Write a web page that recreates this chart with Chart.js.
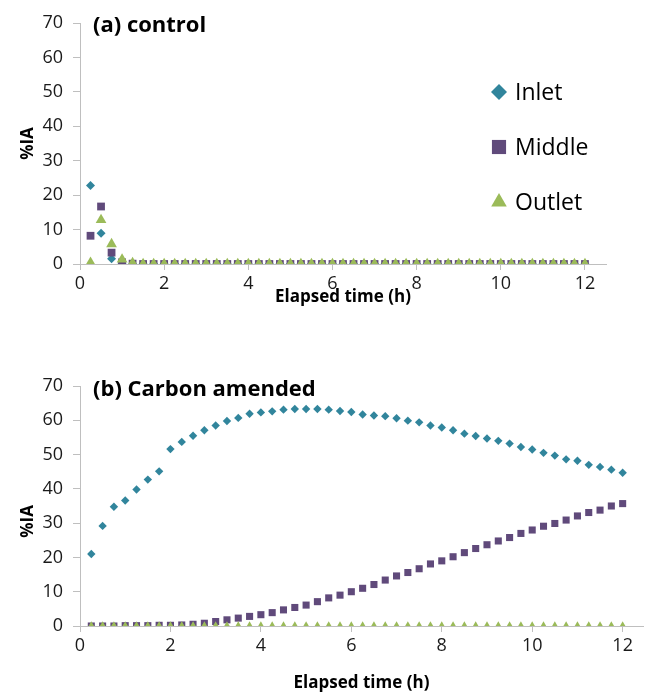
<!DOCTYPE html>
<html>
<head>
<meta charset="utf-8">
<script src="https://cdn.jsdelivr.net/npm/chart.js@4.4.1/dist/chart.umd.min.js"></script>
<style>
  html, body { margin: 0; padding: 0; background: #fff; overflow: hidden; }
  .panel { position: relative; width: 648px; }
  #wrapA { height: 330px; }
  #wrapB { height: 363px; }
</style>
</head>
<body>
<div class="panel" id="wrapA"><canvas id="chartA"></canvas></div>
<div class="panel" id="wrapB"><canvas id="chartB"></canvas></div>
<script>
// sampling times (h)
const hours = [0.25, 0.5, 0.75, 1, 1.25, 1.5, 1.75, 2, 2.25, 2.5, 2.75, 3,
  3.25, 3.5, 3.75, 4, 4.25, 4.5, 4.75, 5, 5.25, 5.5, 5.75, 6,
  6.25, 6.5, 6.75, 7, 7.25, 7.5, 7.75, 8, 8.25, 8.5, 8.75, 9,
  9.25, 9.5, 9.75, 10, 10.25, 10.5, 10.75, 11, 11.25, 11.5, 11.75, 12];

const seriesNames = ['Inlet', 'Middle', 'Outlet'];

// (a) control
const controlInlet = [22.8, 8.9, 1.5, 0.1, 0, 0, 0, 0, 0, 0, 0, 0,
  0, 0, 0, 0, 0, 0, 0, 0, 0, 0, 0, 0,
  0, 0, 0, 0, 0, 0, 0, 0, 0, 0, 0, 0,
  0, 0, 0, 0, 0, 0, 0, 0, 0, 0, 0, 0];
const controlMiddle = [8.2, 16.7, 3.3, 0.5, 0.1, 0, 0, 0, 0, 0, 0, 0,
  0, 0, 0, 0, 0, 0, 0, 0, 0, 0, 0, 0,
  0, 0, 0, 0, 0, 0, 0, 0, 0, 0, 0, 0,
  0, 0, 0, 0, 0, 0, 0, 0, 0, 0, 0, 0];
const controlOutlet = [0.4, 12.8, 5.8, 1.3, 0.3, 0, 0, 0, 0, 0, 0, 0,
  0, 0, 0, 0, 0, 0, 0, 0, 0, 0, 0, 0,
  0, 0, 0, 0, 0, 0, 0, 0, 0, 0, 0, 0,
  0, 0, 0, 0, 0, 0, 0, 0, 0, 0, 0, 0];

// (b) carbon amended
const carbonInlet = [21.0, 29.2, 34.8, 36.6, 39.8, 42.7, 45.1, 51.6, 53.7, 55.5, 57.1, 58.5,
  59.8, 60.7, 61.9, 62.3, 62.6, 63.1, 63.3, 63.3, 63.3, 63.1, 62.7, 62.4,
  61.7, 61.4, 61.2, 60.6, 59.9, 59.4, 58.5, 57.9, 57.1, 56.1, 55.4, 54.7,
  54.0, 53.2, 52.2, 51.5, 50.5, 49.7, 48.6, 48.2, 47.0, 46.4, 45.6, 44.7];
const carbonMiddle = [0, 0, 0, 0.1, 0.1, 0.1, 0.2, 0.2, 0.3, 0.5, 0.8, 1.3,
  1.8, 2.3, 2.8, 3.3, 3.9, 4.7, 5.4, 6.1, 7.1, 8.2, 9.0, 10.0,
  11.0, 12.1, 13.4, 14.6, 15.6, 16.7, 18.1, 19.0, 20.2, 21.4, 22.6, 23.7,
  24.8, 25.8, 27.0, 28.0, 29.1, 29.9, 30.9, 32.1, 33.1, 33.8, 35.0, 35.7];
const carbonOutlet = [0, 0, 0, 0, 0, 0, 0, 0, 0, 0, 0, 0,
  0, 0, 0, 0, 0, 0, 0, 0, 0, 0, 0, 0,
  0, 0, 0, 0, 0, 0, 0, 0, 0, 0, 0, 0,
  0, 0, 0, 0, 0, 0, 0, 0, 0, 0, 0, 0];

const xTicks = [0, 2, 4, 6, 8, 10, 12];
const yTicks = [0, 10, 20, 30, 40, 50, 60, 70];

const FONT = "'Open Sans', sans-serif";
const colors = ['#31859C', '#604A7B', '#9BBB59'];
const styles = ['rectRot', 'rect', 'triangle'];
const axisGray = '#bfbfbf';

const toPoints = (ys) => hours.map((h, i) => ({ x: h, y: ys[i] }));

function makeDatasets(values, radii) {
  return values.map((ys, i) => ({
    label: seriesNames[i],
    data: toPoints(ys),
    pointStyle: styles[i],
    pointRadius: radii[i],
    pointBorderWidth: 0,
    backgroundColor: colors[i],
    borderColor: colors[i],
    showLine: false,
    order: 2 - i
  }));
}

// panel caption and (for panel a) the legend, drawn inside the plot area
const panelText = {
  id: 'panelText',
  afterDraw(chart, args, opts) {
    const { ctx, chartArea } = chart;
    ctx.save();
    ctx.fillStyle = '#000';
    ctx.font = `bold 22px ${FONT}`;
    ctx.textBaseline = 'middle';
    ctx.textAlign = 'left';
    ctx.fillText(opts.title, chartArea.left + 13, chartArea.top + opts.titleDy);
    if (opts.legend) {
      ctx.font = `23px ${FONT}`;
      chart.data.datasets.forEach((ds, i) => {
        const x = chartArea.right - opts.legendRight;
        const y = chartArea.top + opts.legendTop + i * opts.legendGap;
        ctx.fillStyle = ds.backgroundColor;
        ctx.strokeStyle = ds.backgroundColor;
        Chart.helpers.drawPoint(ctx, {
          pointStyle: ds.pointStyle, radius: opts.legendRadii[i], rotation: 0, borderWidth: 0
        }, x, y);
        ctx.fillStyle = '#000';
        ctx.fillText(ds.label, x + 16, y + 1);
      });
    }
    ctx.restore();
  }
};

function makeChart(canvasId, values, radii, o) {
  return new Chart(document.querySelector(canvasId), {
    type: 'scatter',
    data: { datasets: makeDatasets(values, radii) },
    plugins: [panelText],
    options: {
      responsive: true,
      maintainAspectRatio: false,
      animation: false,
      layout: { padding: { top: o.padTop, right: o.padRight, bottom: 0, left: 0 } },
      plugins: {
        legend: { display: false },
        tooltip: { enabled: false },
        panelText: o.text
      },
      scales: {
        x: {
          type: 'linear',
          min: 0,
          max: o.xMax,
          afterFit: (scale) => { scale.height = o.xHeight; },
          afterBuildTicks: (scale) => { scale.ticks = xTicks.map(v => ({ value: v })); },
          grid: { drawOnChartArea: false, drawTicks: true, tickLength: 6, color: axisGray },
          border: { color: axisGray, width: 1 },
          ticks: { color: '#1a1a1a', font: { family: FONT, size: 18 }, padding: 3, maxRotation: 0 },
          title: {
            display: true, text: 'Elapsed time (h)', color: '#000',
            font: { family: FONT, size: 17, weight: 'bold' },
            padding: { top: 0, bottom: o.xTitlePad }
          }
        },
        y: {
          min: 0,
          max: 70,
          afterFit: (scale) => { scale.width = 80; },
          afterBuildTicks: (scale) => { scale.ticks = yTicks.map(v => ({ value: v })); },
          grid: { drawOnChartArea: false, drawTicks: true, tickLength: 7, color: axisGray },
          border: { color: axisGray, width: 1 },
          ticks: { color: '#1a1a1a', font: { family: FONT, size: 18 }, padding: 10 },
          title: {
            display: true, text: o.yTitle, color: '#000',
            font: { family: FONT, size: 17, weight: 'bold' },
            padding: { top: 18, bottom: 0 }
          }
        }
      }
    }
  });
}

makeChart('#chartA', [controlInlet, controlMiddle, controlOutlet], [4.5, 5.5, 6.2], {
  padTop: 23, padRight: 42, xMax: 12.5, xHeight: 66, xTitlePad: 23, yTitle: '%IA',
  text: { title: '(a) control', titleDy: 3, legend: true, legendRight: 107,
    legendTop: 69, legendGap: 55, legendRadii: [8, 10, 9] }
});

makeChart('#chartB', [carbonInlet, carbonMiddle, carbonOutlet], [4.2, 5, 4.7], {
  padTop: 56, padRight: 0, xMax: 12.45, xHeight: 67, xTitlePad: 0, yTitle: '%IA       ',
  text: { title: '(b) Carbon amended', titleDy: 4, legend: false }
});
</script>
</body>
</html>
